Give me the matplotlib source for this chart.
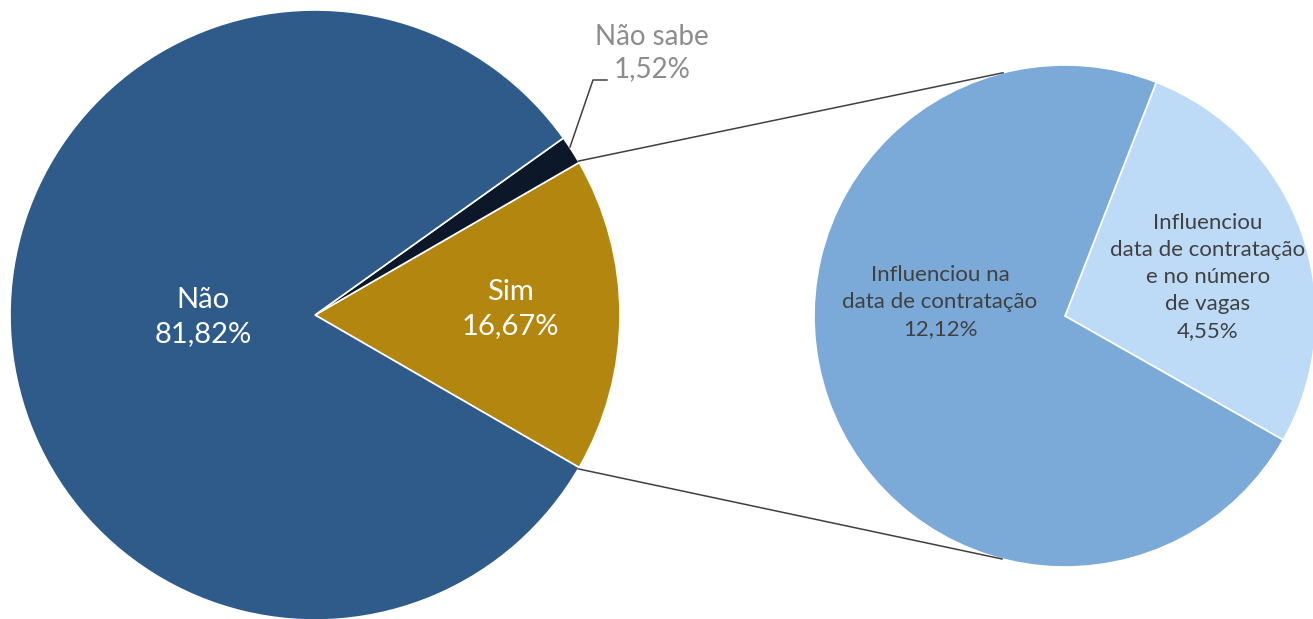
import numpy as np
import matplotlib
matplotlib.use("Agg")
import matplotlib.pyplot as plt

# Data
main_labels = ["Sim", "Não sabe", "Não"]
main_values = [16.67, 1.52, 81.82]
main_pct = ["16,67%", "1,52%", "81,82%"]
sub_labels = ["Influenciou\ndata de contratação\ne no número\nde vagas", "Influenciou na\ndata de contratação"]
sub_values = [4.55, 12.12]
sub_pct = ["4,55%", "12,12%"]

main_colors = ["#B3870F", "#0C1829", "#2E5B8A"]
sub_colors = ["#BDDBF7", "#7BAAD8"]

plt.rcParams['font.family'] = ['Lato', 'DejaVu Sans']

W, H = 1313, 619
fig = plt.figure(figsize=(W / 100, H / 100), dpi=100)
ax = fig.add_axes([0, 0, 1, 1])

# Left pie
c1 = (315, H - 315)
r1 = 305
sim_angle = main_values[0] / sum(main_values) * 360
start1 = -sim_angle / 2
ax.pie(main_values, colors=main_colors, startangle=start1, counterclock=True,
       center=c1, radius=r1, frame=True,
       wedgeprops=dict(edgecolor='white', linewidth=1.2))

# Right pie
c2 = (1065, H - 316)
r2 = 251
ax.pie(sub_values, colors=sub_colors, startangle=-29.6, counterclock=True,
       center=c2, radius=r2, frame=True,
       wedgeprops=dict(edgecolor='white', linewidth=1.2))
ax.set_xlim(0, W)
ax.set_ylim(0, H)
ax.set_aspect('equal')
ax.axis('off')

# Connector lines (from Sim edges to right pie, near tangent)
for sgn in (1, -1):
    a = np.deg2rad(sgn * (sim_angle / 2 + 0.3))
    p = np.array([c1[0] + r1 * np.cos(a), c1[1] + r1 * np.sin(a)])
    cc = np.array(c2)
    d = p - cc
    dist = np.hypot(*d)
    base = np.arctan2(d[1], d[0])
    off = np.arccos(r2 / dist)
    t = base - sgn * (off - np.deg2rad(2.5))
    q = cc + r2 * np.array([np.cos(t), np.sin(t)])
    ax.plot([p[0], q[0]], [p[1], q[1]], color='#404040', lw=1.1, zorder=5)

# Labels main pie
ax.text(203, H - 317, "Não\n81,82%", ha='center', va='center', color='white',
        fontsize=21, linespacing=1.35)
ax.text(510, H - 309, "Sim\n16,67%", ha='center', va='center', color='white',
        fontsize=21, linespacing=1.35)

# Não sabe label with leader
ax.plot([570, 593, 607], [H - 147, H - 80, H - 80], color='#404040', lw=1.1, zorder=5)
ax.text(652, H - 53, "Não sabe\n1,52%", ha='center', va='center', color='#8C8C8C',
        fontsize=20, linespacing=1.3)

# Labels sub pie
ax.text(940, H - 302, sub_labels[1] + "\n" + sub_pct[1], ha='center', va='center',
        color='#404040', fontsize=16, linespacing=1.45)
ax.text(1208, H - 277, sub_labels[0] + "\n" + sub_pct[0], ha='center', va='center',
        color='#404040', fontsize=16, linespacing=1.45)

fig.savefig("out.png", dpi=100, facecolor='white')
